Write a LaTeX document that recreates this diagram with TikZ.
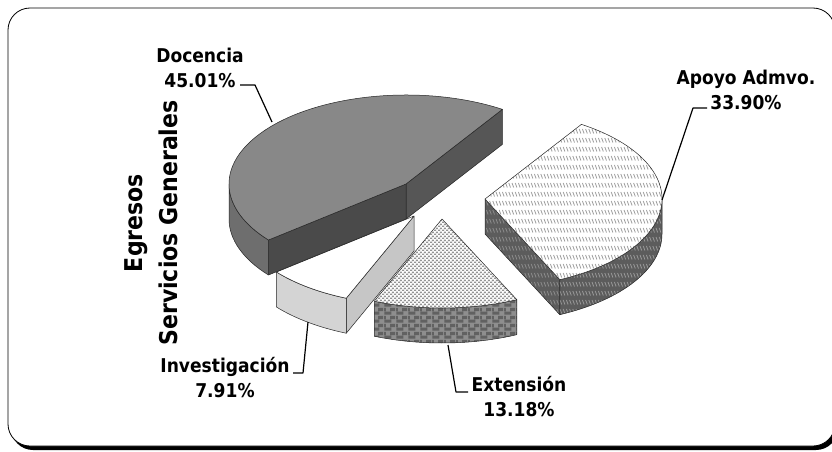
\documentclass[tikz,border=0pt]{standalone}
\usepackage{fontspec}
\setmainfont{DejaVu Sans Condensed}
\usetikzlibrary{patterns,calc}

\pgfdeclarepatternformonly{strokehatch}{\pgfqpoint{-1pt}{-1pt}}{\pgfqpoint{4pt}{10pt}}{\pgfqpoint{3.2pt}{9pt}}{%
  \pgfsetlinewidth{0.8pt}%
  \pgfpathmoveto{\pgfqpoint{0pt}{7pt}}%
  \pgfpathlineto{\pgfqpoint{1.7pt}{2.5pt}}%
  \pgfusepath{stroke}}
\pgfdeclarepatternformonly{dotgrid}{\pgfpointorigin}{\pgfqpoint{4.4pt}{4.4pt}}{\pgfqpoint{4.4pt}{4.4pt}}{%
  \pgfpathrectangle{\pgfqpoint{0pt}{0pt}}{\pgfqpoint{2.4pt}{1.5pt}}%
  \pgfpathrectangle{\pgfqpoint{2.2pt}{2.2pt}}{\pgfqpoint{2.2pt}{1.5pt}}%
  \pgfusepath{fill}}
\pgfdeclarepatternformonly{brickdark}{\pgfpointorigin}{\pgfqpoint{12pt}{7.5pt}}{\pgfqpoint{12pt}{7.5pt}}{%
  \pgfpathrectangle{\pgfqpoint{0.5pt}{0.3pt}}{\pgfqpoint{7.5pt}{3.3pt}}%
  \pgfpathrectangle{\pgfqpoint{6.5pt}{4.1pt}}{\pgfqpoint{5.5pt}{3.3pt}}%
  \pgfpathrectangle{\pgfqpoint{0pt}{4.1pt}}{\pgfqpoint{2pt}{3.3pt}}%
  \pgfusepath{fill}}

\definecolor{dtop}{HTML}{888888}
\definecolor{dfront}{HTML}{4A4A4A}
\definecolor{dright}{HTML}{565656}
\definecolor{douter}{HTML}{6E6E6E}
\definecolor{aside}{HTML}{5C5C5C}
\definecolor{eside}{HTML}{8E8E8E}
\definecolor{iside}{HTML}{C6C6C6}
\definecolor{iouter}{HTML}{D4D4D4}

\begin{document}
\begin{tikzpicture}[x=1pt,y=1pt,line join=round,
  edge/.style={draw=black!85,line width=0.5pt},
  lbl/.style={font=\bfseries\fontsize{19}{25}\selectfont,align=center,inner sep=0pt},
  leader/.style={draw=black,line width=1.2pt},
  ell/.style={x radius=177pt,y radius=89pt}]
\useasboundingbox (0,0) rectangle (832,451);
% frame
\fill[black,rounded corners=22pt] (11,1) rectangle (838,439);
\draw[fill=white,draw=black,line width=0.8pt,rounded corners=22pt] (8,5) rectangle (835,443);

% centers
\coordinate (cD) at (406,267);
\coordinate (cA) at (485,252);
\coordinate (cE) at (442,232);
\coordinate (cI) at (414,235);

% Investigacion
\filldraw[edge,fill=iside] (cI) -- ++(-112.5:177pt and 89pt) -- ++(0,-35) -- ($(cI)+(0,-35)$) -- cycle;
\filldraw[edge,fill=iouter] (cI) ++(-141:177pt and 89pt) arc[start angle=-141,end angle=-112.5,ell] -- ++(0,-35) arc[start angle=-112.5,end angle=-141,ell] -- cycle;
\filldraw[edge,fill=white] (cI) -- ++(-141:177pt and 89pt) arc[start angle=-141,end angle=-112.5,ell] -- cycle;

% Docencia
\filldraw[edge,fill=dright] (cD) -- ++(57:177pt and 89pt) -- ++(0,-35) -- ($(cD)+(0,-35)$) -- cycle;
\filldraw[edge,fill=dfront] (cD) -- ++(219:177pt and 89pt) -- ++(0,-35) -- ($(cD)+(0,-35)$) -- cycle;
\filldraw[edge,fill=douter] (cD) ++(180:177pt and 89pt) arc[start angle=180,end angle=219,ell] -- ++(0,-35) arc[start angle=219,end angle=180,ell] -- cycle;
\filldraw[edge,fill=dtop] (cD) -- ++(57:177pt and 89pt) arc[start angle=57,end angle=219,ell] -- cycle;

% Apoyo Admvo
\draw[edge,preaction={fill=aside},pattern=strokehatch,pattern color=black!45] (cA) -- ++(-65:177pt and 89pt) -- ++(0,-35) -- ($(cA)+(0,-35)$) -- cycle;
\draw[edge,preaction={fill=aside},pattern=strokehatch,pattern color=black!40] (cA) ++(-65:177pt and 89pt) arc[start angle=-65,end angle=0,ell] -- ++(0,-35) arc[start angle=0,end angle=-65,ell] -- cycle;
\draw[edge,preaction={fill=white},pattern=strokehatch,pattern color=black!38] (cA) -- ++(-65:177pt and 89pt) arc[start angle=-65,end angle=57,ell] -- cycle;

% Extension
\draw[edge,preaction={fill=eside},pattern=brickdark,pattern color=black!62] (cE) ++(-112.5:177pt and 89pt) arc[start angle=-112.5,end angle=-65,ell] -- ++(0,-35) arc[start angle=-65,end angle=-112.5,ell] -- cycle;
\draw[edge,preaction={fill=white},pattern=dotgrid,pattern color=black!42] (cE) -- ++(-112.5:177pt and 89pt) arc[start angle=-112.5,end angle=-65,ell] -- cycle;

% title
\node[font=\bfseries\fontsize{24.5}{35}\selectfont,align=center,rotate=90,inner sep=0pt] (ttl) at (151,228) {Egresos\\Servicios Generales};

% labels
\node[lbl] (lD) at (200,383) {Docencia\\45.01\%};
\node[lbl] (lA) at (746,361) {Apoyo Admvo.\\33.90\%};
\node[lbl] (lI) at (225,73) {Investigación\\7.91\%};
\node[lbl] (lE) at (519,54) {Extensión\\13.18\%};

% leaders
\coordinate (dA) at (240,366); \coordinate (dB) at (255,366); \coordinate (dC) at (272,329);
\draw[leader] (dA) -- (dB) -- (dC);
\coordinate (aA) at (707,343); \coordinate (aB) at (693,343); \coordinate (aC) at (662,251);
\draw[leader] (aA) -- (aB) -- (aC);
\coordinate (iA) at (293,78); \coordinate (iB) at (303,78); \coordinate (iC) at (308,129);
\draw[leader] (iA) -- (iB) -- (iC);
\coordinate (eA) at (468,59); \coordinate (eB) at (456,59); \coordinate (eC) at (448,106);
\draw[leader] (eA) -- (eB) -- (eC);
\end{tikzpicture}
\end{document}
